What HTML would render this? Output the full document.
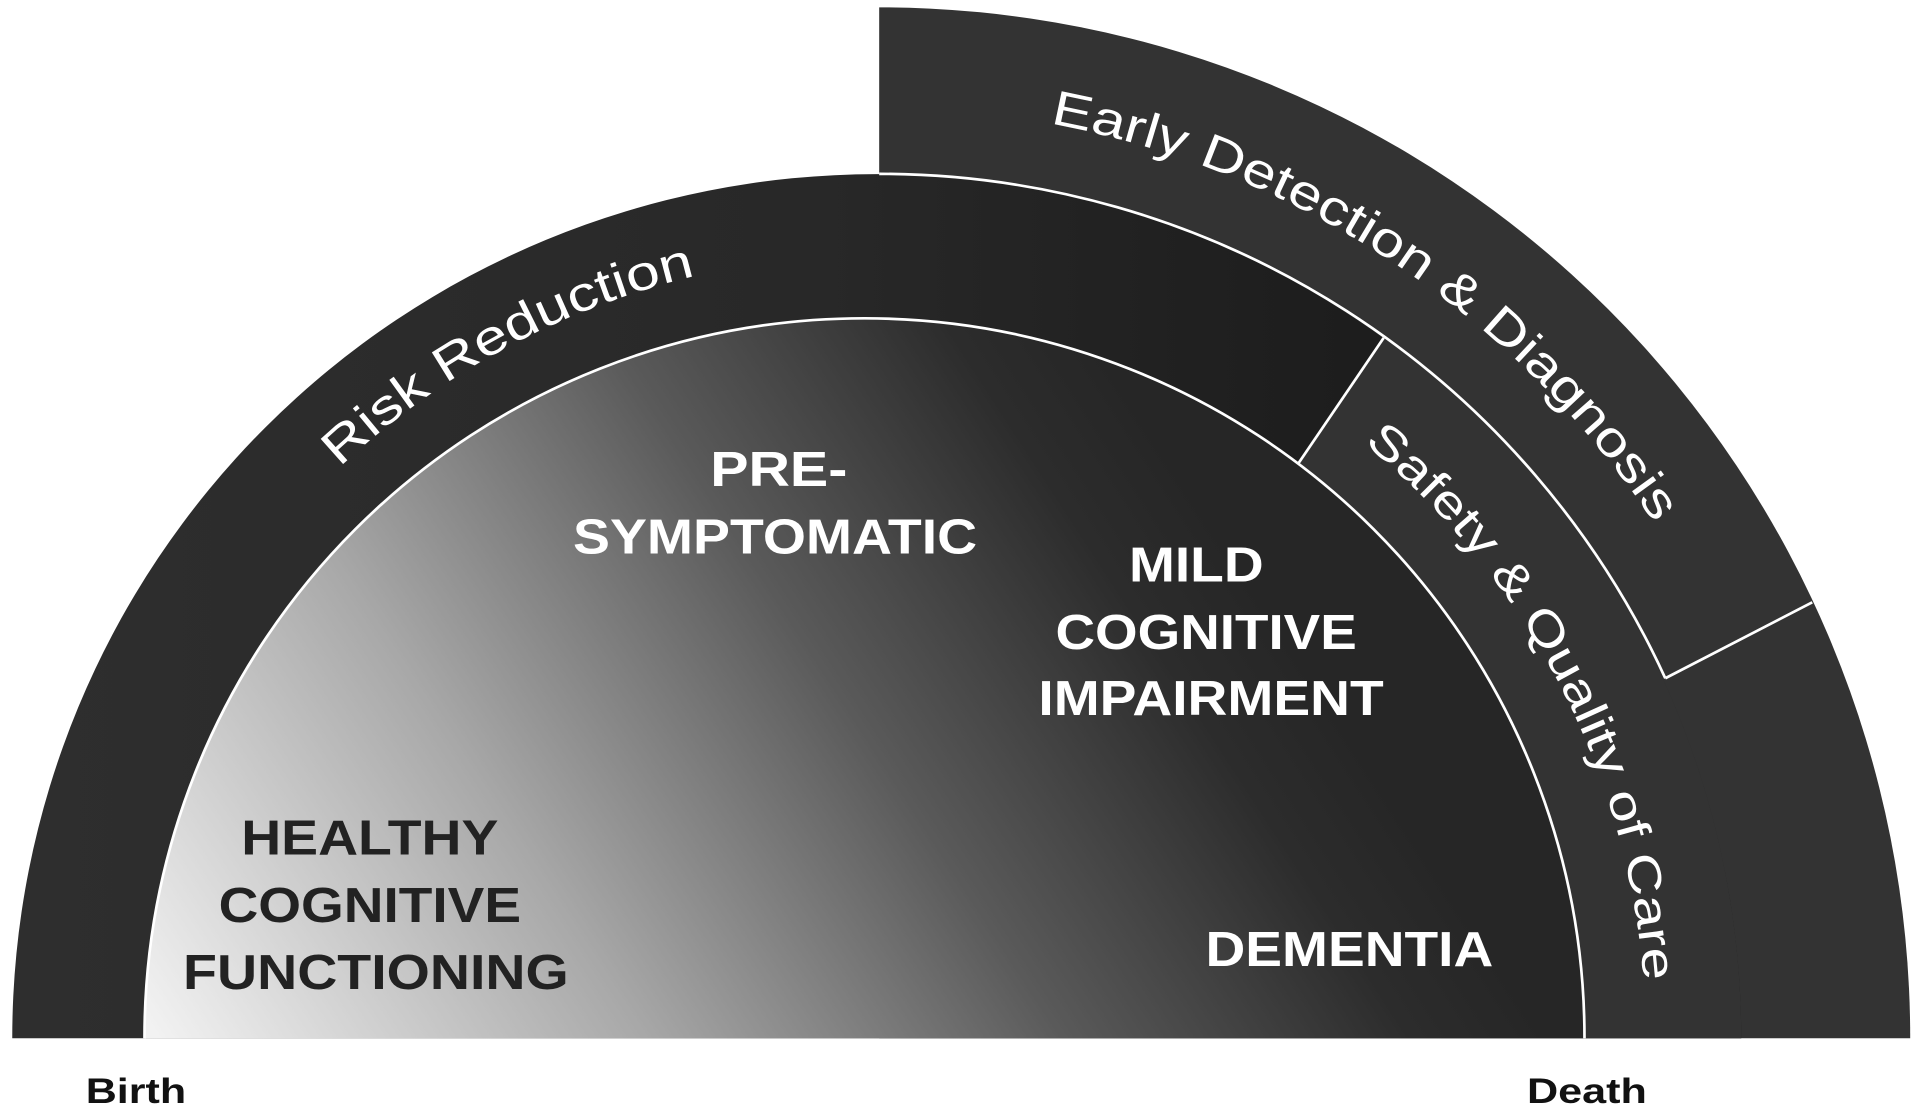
<!DOCTYPE html>
<html><head><meta charset="utf-8"><style>
html,body{margin:0;padding:0;background:#fff;width:1920px;height:1119px;overflow:hidden}
svg{display:block}
text{font-family:"Liberation Sans",Arial,sans-serif}
</style></head><body>
<svg width="1920" height="1119" viewBox="0 0 1568 914" preserveAspectRatio="none" xmlns="http://www.w3.org/2000/svg">
<defs>
<linearGradient id="g" gradientUnits="userSpaceOnUse" x1="130" y1="850" x2="930" y2="330">
<stop offset="0" stop-color="#f2f2f2"/>
<stop offset="0.35" stop-color="#a8a8a8"/>
<stop offset="0.65" stop-color="#5a5a5a"/>
<stop offset="0.9" stop-color="#2c2c2c"/>
<stop offset="1" stop-color="#262626"/>
</linearGradient>
<linearGradient id="r" gradientUnits="userSpaceOnUse" x1="10" y1="0" x2="1100" y2="0">
<stop offset="0" stop-color="#2e2e2e"/>
<stop offset="0.6" stop-color="#282828"/>
<stop offset="1" stop-color="#1d1d1d"/>
</linearGradient>
<path id="pr" d="M76,848 A640,640 0 0 1 1356,848"/>
<path id="pe" d="M-42,848 A760,760 0 0 1 1478,848"/>
<path id="ps" d="M88,848 A628,628 0 0 1 1344,848"/>
</defs>
<rect width="1568" height="914" fill="#fff"/>
<path d="M718,6 A842,842 0 0 1 1560,848 L718,848 Z" fill="#333"/>
<path d="M10,848 A706,706 0 0 1 1422,848 Z" fill="url(#r)"/>
<path d="M1130,276 A706,706 0 0 1 1422,848 L1294,848 A588,588 0 0 0 1060,379 Z" fill="#333"/>
<path d="M118,848 A588,588 0 0 1 1294,848 Z" fill="url(#g)"/>
<g fill="none" stroke="#fff" stroke-width="2.2">
<path d="M118,848 A588,588 0 0 1 1294,848"/>
<path d="M718,142 A706,706 0 0 1 1360,554"/>
<line x1="1060" y1="379" x2="1130" y2="276"/>
<line x1="1360" y1="554" x2="1480" y2="492"/>
</g>
<g fill="#fff" font-size="40">
<text><textPath href="#pr" startOffset="522" textLength="334" lengthAdjust="spacingAndGlyphs">Risk Reduction</textPath></text>
<text><textPath href="#pe" startOffset="1334" textLength="608" lengthAdjust="spacingAndGlyphs">Early Detection &amp; Diagnosis</textPath></text>
<text font-size="38"><textPath href="#ps" startOffset="1417" textLength="509" lengthAdjust="spacingAndGlyphs">Safety &amp; Quality of Care</textPath></text>
</g>
<g font-weight="bold" font-size="40" text-anchor="middle">
<g fill="#222">
<text x="302" y="698" textLength="210" lengthAdjust="spacingAndGlyphs">HEALTHY</text>
<text x="302" y="753" textLength="247" lengthAdjust="spacingAndGlyphs">COGNITIVE</text>
<text x="307" y="808" textLength="315" lengthAdjust="spacingAndGlyphs">FUNCTIONING</text>
</g>
<g fill="#fff">
<text x="636" y="397" textLength="112" lengthAdjust="spacingAndGlyphs">PRE-</text>
<text x="633" y="452" textLength="330" lengthAdjust="spacingAndGlyphs">SYMPTOMATIC</text>
<text x="977" y="475" textLength="110" lengthAdjust="spacingAndGlyphs">MILD</text>
<text x="985" y="530" textLength="246" lengthAdjust="spacingAndGlyphs">COGNITIVE</text>
<text x="989" y="584" textLength="282" lengthAdjust="spacingAndGlyphs">IMPAIRMENT</text>
<text x="1102" y="789" textLength="235" lengthAdjust="spacingAndGlyphs">DEMENTIA</text>
</g>
</g>
<g font-weight="bold" font-size="29" fill="#111">
<text x="70" y="901" textLength="82" lengthAdjust="spacingAndGlyphs">Birth</text>
<text x="1247" y="901" textLength="98" lengthAdjust="spacingAndGlyphs">Death</text>
</g>
</svg>
</body></html>
